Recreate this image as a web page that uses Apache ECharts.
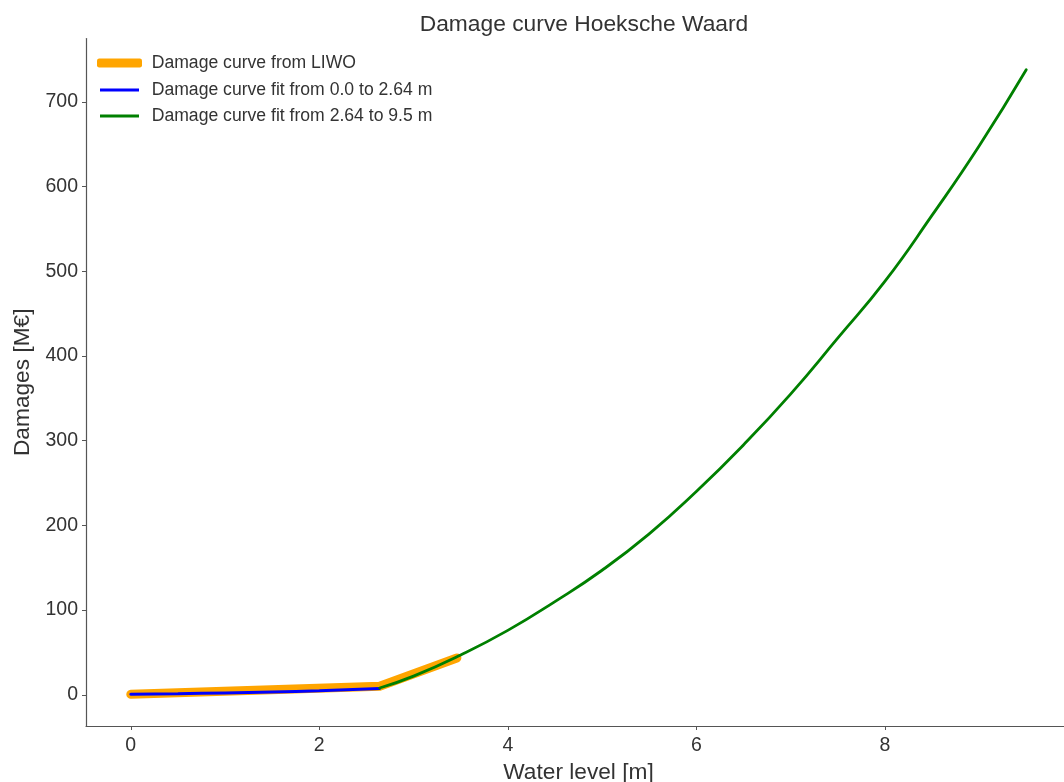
<!DOCTYPE html>
<html>
<head>
<meta charset="utf-8">
<script src="https://cdn.jsdelivr.net/npm/echarts@6/dist/echarts.min.js"></script>
<style>
html,body{margin:0;padding:0;background:#fff;}
#chart{width:1064px;height:782px;}
</style>
</head>
<body>
<div id="chart"></div>
<script>
// Data
const liwoX = [0, 2.64, 3.46];
const liwoY = [0.5, 10, 43.5];

const fitLowX = [0, 0.5, 1.0, 1.5, 2.0, 2.64];
const fitLowY = [0.5, 1.2, 2.2, 3.3, 4.8, 7.5];

const fitHighX = [2.64, 3.0, 3.5, 4.0, 4.5, 5.0, 5.5, 6.0, 6.5, 7.0, 7.5, 8.0, 8.5, 9.0, 9.5];
const fitHighY = [8, 22, 47, 76, 110, 147, 190, 240, 295, 355, 421, 488, 566, 648, 738];

const xTicks = [0, 2, 4, 6, 8];
const yTicks = [0, 100, 200, 300, 400, 500, 600, 700];

const names = ['Damage curve from LIWO', 'Damage curve fit from 0.0 to 2.64 m', 'Damage curve fit from 2.64 to 9.5 m'];
const colors = ['#FFA500', '#0000FF', '#008000'];

const pairs = (xs, ys) => xs.map((x, i) => [x, ys[i]]);

const FONT = "'Liberation Sans', Arial, sans-serif";
const TXT = '#333333';

const chart = echarts.init(document.getElementById('chart'), null, {renderer: 'canvas'});

function legendFor(i, centerY, h) {
  const first = i === 0;
  return {
    show: true,
    data: [names[i]],
    left: first ? 97 : 100,
    top: centerY - 10,
    height: 20,
    padding: 0,
    orient: 'vertical',
    icon: first ? 'roundRect' : 'rect',
    itemWidth: first ? 45 : 39,
    itemHeight: h,
    selectedMode: false,
    textStyle: {fontFamily: FONT, fontSize: 17.6, color: TXT, padding: [0, 0, 0, first ? 4.7 : 7.7], lineHeight: 20},
    itemStyle: {color: colors[i]}
  };
}

chart.setOption({
  animation: false,
  backgroundColor: '#ffffff',
  title: {
    text: 'Damage curve Hoeksche Waard',
    left: 579, textAlign: 'center',
    top: 8,
    textStyle: {fontFamily: FONT, fontSize: 22.8, fontWeight: 'normal', color: TXT}
  },
  legend: [legendFor(0, 63, 9), legendFor(1, 90, 3), legendFor(2, 116, 3)],
  grid: {left: 86, top: 38.5, width: 985, bottom: 782 - 726, containLabel: false, outerBoundsMode: 'none'},
  xAxis: {
    type: 'value',
    min: -0.475, max: 9.975,
    name: 'Water level [m]',
    nameLocation: 'middle',
    nameGap: 30,
    nameTextStyle: {fontFamily: FONT, fontSize: 22.7, color: TXT},
    axisLine: {show: true, onZero: false, lineStyle: {color: '#555555', width: 1.2}},
    axisTick: {show: true, length: 4, customValues: xTicks, lineStyle: {color: '#555555'}},
    axisLabel: {customValues: xTicks, fontFamily: FONT, fontSize: 19.5, color: TXT, margin: 10},
    splitLine: {show: false}
  },
  yAxis: {
    type: 'value',
    min: -36.9, max: 774.9,
    name: 'Damages [M€]',
    nameLocation: 'middle',
    nameGap: 52,
    nameTextStyle: {fontFamily: FONT, fontSize: 22.7, color: TXT},
    axisLine: {show: true, onZero: false, lineStyle: {color: '#555555', width: 1.2}},
    axisTick: {show: true, length: 4, customValues: yTicks, lineStyle: {color: '#555555'}},
    axisLabel: {customValues: yTicks, fontFamily: FONT, fontSize: 19.5, color: TXT, margin: 8},
    splitLine: {show: false}
  },
  series: [
    {
      name: names[0], type: 'line', data: pairs(liwoX, liwoY),
      showSymbol: false, symbol: 'none', z: 1,
      lineStyle: {color: colors[0], width: 9, cap: 'round', join: 'round'},
      itemStyle: {color: colors[0]}
    },
    {
      name: names[1], type: 'line', data: pairs(fitLowX, fitLowY),
      showSymbol: false, symbol: 'none', smooth: true, z: 2,
      lineStyle: {color: colors[1], width: 3, cap: 'round'},
      itemStyle: {color: colors[1]}
    },
    {
      name: names[2], type: 'line', data: pairs(fitHighX, fitHighY),
      showSymbol: false, symbol: 'none', smooth: true, z: 3,
      lineStyle: {color: colors[2], width: 2.8, cap: 'round'},
      itemStyle: {color: colors[2]}
    }
  ]
});
</script>
</body>
</html>
